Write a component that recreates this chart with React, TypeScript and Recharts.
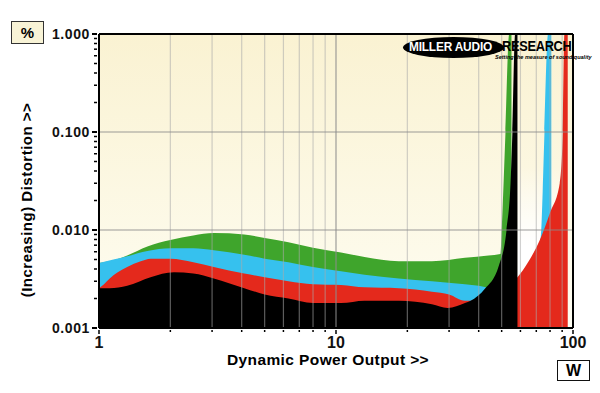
import {
  ComposedChart,
  Area,
  XAxis,
  YAxis,
  CartesianGrid,
  ReferenceLine,
} from "recharts";

// power axis (W) and distortion (%)
const xTicks = [1, 2, 3, 4, 5, 6, 7, 8, 9, 10, 20, 30, 40, 50, 60, 70, 80, 90, 100];
const yDecades = [0.001, 0.01, 0.1, 1];
const yTicks = [
  0.001, 0.002, 0.003, 0.004, 0.005, 0.006, 0.007, 0.008, 0.009,
  0.01, 0.02, 0.03, 0.04, 0.05, 0.06, 0.07, 0.08, 0.09,
  0.1, 0.2, 0.3, 0.4, 0.5, 0.6, 0.7, 0.8, 0.9, 1,
];
const xDomain = [1, 100];
const yDomain = [0.001, 1];

const greenW = [1, 1.15, 1.315, 1.6, 2.0, 2.5, 3.05, 4.1, 5, 6.3, 8, 10.5, 13.2, 18.4, 25.4, 35, 44, 49.4, 50, 51.9, 53.8, 55];
const greenPct = [0.0046, 0.0049, 0.0055, 0.0068, 0.0079, 0.0088, 0.0093, 0.009, 0.0083, 0.0075, 0.0066, 0.0059, 0.0053, 0.0048, 0.0048, 0.0052, 0.0055, 0.0057, 0.01, 0.1, 1, 1];

const cyanW = [1, 1.15, 1.315, 1.6, 2.0, 2.5, 3.05, 4.1, 5, 6.3, 8, 10.5, 13.2, 18.4, 25.4, 35, 40, 44, 50, 58, 65, 70, 73.1, 74.5, 75.8, 78.5, 81];
const cyanPct = [0.0046, 0.005, 0.0054, 0.0061, 0.0065, 0.0065, 0.0062, 0.0056, 0.0051, 0.0047, 0.0042, 0.0038, 0.0035, 0.0032, 0.003, 0.0028, 0.0027, 0.0026, 0.0026, 0.0029, 0.0042, 0.006, 0.0085, 0.025, 0.1, 1, 1];

const redW = [1, 1.05, 1.11, 1.2, 1.315, 1.5, 1.65, 2.0, 2.5, 3.05, 4.1, 5, 6.3, 8, 10.5, 13.2, 18.4, 25.4, 30, 35, 37, 42, 50, 58.3, 65, 72.3, 80, 87.9, 90.6, 92, 95];
const redPct = [0.00255, 0.0028, 0.0032, 0.0037, 0.0042, 0.0048, 0.0051, 0.0051, 0.0047, 0.0042, 0.0036, 0.0033, 0.003, 0.0028, 0.00275, 0.0026, 0.00255, 0.00235, 0.0022, 0.0019, 0.0019, 0.0021, 0.0026, 0.0033, 0.0048, 0.0078, 0.015, 0.03, 0.1, 1, 1];

const blackW = [1, 1.11, 1.315, 1.65, 2.07, 2.5, 3.05, 4.1, 5, 6.3, 8, 10.5, 13.2, 18.4, 25.4, 29.6, 35, 37, 42.4, 48.6, 52.4, 54.5, 55.5, 57, 58.3];
const blackPct = [0.00255, 0.00255, 0.0027, 0.0033, 0.0037, 0.0036, 0.0032, 0.00255, 0.0022, 0.002, 0.0018, 0.0018, 0.0019, 0.0019, 0.00175, 0.0016, 0.0018, 0.0019, 0.0025, 0.0043, 0.0099, 0.03, 0.1, 1, 1];

// pale patch behind the clipped region right of the black trace
const clearW = [58.3, 92];
const clearPct = [1, 1];

const series: [string, number[], number[]][] = [
  ["green", greenW, greenPct],
  ["clear", clearW, clearPct],
  ["cyan", cyanW, cyanPct],
  ["red", redW, redPct],
  ["black", blackW, blackPct],
];

const rowMap = new Map<number, Record<string, number>>();
series.forEach(([key, ws, vs]) => {
  ws.forEach((w, i) => {
    const row = rowMap.get(w) ?? { w };
    row[key] = vs[i];
    rowMap.set(w, row);
  });
});
const data = [...rowMap.values()].sort((a, b) => a.w - b.w);

const font = "'Liberation Sans', Arial, sans-serif";

const YTick = ({ x, y, payload }: any) => {
  const v = payload.value;
  const major = yDecades.includes(v);
  return (
    <g>
      <line x1={major ? x - 7 : x - 5} x2={x - 2} y1={y} y2={y} stroke="#000" strokeWidth={major ? 2 : 1.5} />
      {major && (
        <text x={x - 9} y={y + 5} textAnchor="end" fontFamily={font} fontWeight="bold" fontSize={14} letterSpacing={0.6} fill="#111">
          {v.toFixed(3)}
        </text>
      )}
    </g>
  );
};

const XTick = ({ x, y, payload }: any) => {
  const v = payload.value;
  const major = v === 1 || v === 10 || v === 100;
  return (
    <g>
      <line x1={x} x2={x} y1={y + 2} y2={y + (major ? 6 : 4)} stroke="#000" strokeWidth={1.5} />
      {major && (
        <text x={x} y={y + 20} textAnchor="middle" fontFamily={font} fontWeight="bold" fontSize={16} fill="#111">
          {v}
        </text>
      )}
    </g>
  );
};

const App = () => {
  return (
    <div style={{ position: "relative", width: 600, height: 393, background: "#fff", fontFamily: font }}>
      <style>{"body{margin:0}"}</style>
      <ComposedChart width={600} height={393} data={data} margin={{ top: 34, right: 27, bottom: 25, left: 0 }}>
        <defs>
          <linearGradient id="bg" x1="0" y1="0" x2="0" y2="1">
            <stop offset="0%" stopColor="#faf2d2" />
            <stop offset="100%" stopColor="#fefdf2" />
          </linearGradient>
          <linearGradient id="clear" x1="0" y1="0" x2="0" y2="1">
            <stop offset="45%" stopColor="#ffffff" stopOpacity={0} />
            <stop offset="72%" stopColor="#ffffff" stopOpacity={1} />
          </linearGradient>
        </defs>
        <CartesianGrid horizontal={false} vertical={false} fill="url(#bg)" />
        <XAxis
          dataKey="w"
          type="number"
          scale="log"
          domain={xDomain}
          allowDataOverflow
          ticks={xTicks}
          interval={0}
          height={40}
          tick={<XTick />}
          tickLine={false}
          tickSize={0}
          tickMargin={0}
          axisLine={{ stroke: "#000", strokeWidth: 2 }}
        />
        <YAxis
          type="number"
          scale="log"
          domain={yDomain}
          allowDataOverflow
          ticks={yTicks}
          interval={0}
          width={99}
          tick={<YTick />}
          tickLine={false}
          tickSize={0}
          tickMargin={0}
          axisLine={{ stroke: "#000", strokeWidth: 2 }}
        />
        <Area dataKey="green" type="monotone" fill="#3fa52c" fillOpacity={1} stroke="none" baseValue={yDomain[0]} connectNulls dot={false} activeDot={false} isAnimationActive={false} />
        <Area dataKey="clear" type="linear" fill="url(#clear)" fillOpacity={1} stroke="none" baseValue={yDomain[0]} connectNulls dot={false} activeDot={false} isAnimationActive={false} />
        <Area dataKey="cyan" type="monotone" fill="#36c1ee" fillOpacity={1} stroke="none" baseValue={yDomain[0]} connectNulls dot={false} activeDot={false} isAnimationActive={false} />
        <Area dataKey="red" type="monotone" fill="#e4291c" fillOpacity={1} stroke="none" baseValue={yDomain[0]} connectNulls dot={false} activeDot={false} isAnimationActive={false} />
        <Area dataKey="black" type="monotone" fill="#000" fillOpacity={1} stroke="none" baseValue={yDomain[0]} connectNulls dot={false} activeDot={false} isAnimationActive={false} />
        {xTicks
          .filter((t) => t !== 1 && t !== 100)
          .map((t) => (
            <ReferenceLine key={`x${t}`} x={t} stroke={t === 10 ? "#8c8c8c" : "#aaaaaa"} strokeOpacity={t === 10 ? 0.85 : 0.55} strokeWidth={1.2} />
          ))}
        {yDecades
          .filter((t) => t !== 0.001 && t !== 1)
          .map((t) => (
            <ReferenceLine key={`y${t}`} y={t} stroke="#8c8c8c" strokeOpacity={0.85} strokeWidth={1.2} />
          ))}
        <ReferenceLine x={100} stroke="#000" strokeWidth={2} />
        <ReferenceLine y={1} stroke="#000" strokeWidth={2} />
      </ComposedChart>

      {/* % unit box */}
      <div style={{ position: "absolute", left: 11, top: 21, width: 31, height: 21, background: "#f8f3d6", border: "1.5px solid #333", fontWeight: "bold", fontSize: 15, lineHeight: "21px", textAlign: "center" }}>
        %
      </div>
      {/* W unit box */}
      <div style={{ position: "absolute", left: 557, top: 360, width: 31, height: 19, background: "#fff", border: "1.5px solid #111", fontWeight: "bold", fontSize: 16, lineHeight: "19px", textAlign: "center" }}>
        W
      </div>
      {/* axis titles */}
      <div style={{ position: "absolute", left: 178, top: 352, width: 300, textAlign: "center", fontWeight: "bold", fontSize: 15.5, letterSpacing: 0.4, whiteSpace: "nowrap", lineHeight: "16px" }}>
        Dynamic Power Output &gt;&gt;
      </div>
      <div style={{ position: "absolute", left: 27, top: 200, width: 0, height: 0 }}>
        <div style={{ position: "absolute", left: -120, top: -9, width: 240, textAlign: "center", fontWeight: "bold", fontSize: 15, letterSpacing: 0.5, whiteSpace: "nowrap", lineHeight: "18px", transform: "rotate(-90deg)" }}>
          (Increasing) Distortion &gt;&gt;
        </div>
      </div>
      {/* logo */}
      <div style={{ position: "absolute", left: 403, top: 37, width: 101, height: 21, borderRadius: "50%", background: "#000" }} />
      <div style={{ position: "absolute", left: 409, top: 40, fontWeight: 900, fontSize: 12.5, color: "#fff", whiteSpace: "nowrap", letterSpacing: -0.2, lineHeight: "15px", transform: "scaleX(0.95)", transformOrigin: "left" }}>
        MILLER AUDIO
      </div>
      <div style={{ position: "absolute", left: 502, top: 38, fontWeight: 900, fontSize: 14.5, color: "#000", whiteSpace: "nowrap", letterSpacing: -0.3, lineHeight: "17px", transform: "scaleX(0.88)", transformOrigin: "left" }}>
        RESEARCH
      </div>
      <div style={{ position: "absolute", left: 495, top: 54, fontWeight: "bold", fontStyle: "italic", fontSize: 5.5, color: "#000", whiteSpace: "nowrap", lineHeight: "6px" }}>
        Setting the measure of sound quality
      </div>
    </div>
  );
};

export default App;
